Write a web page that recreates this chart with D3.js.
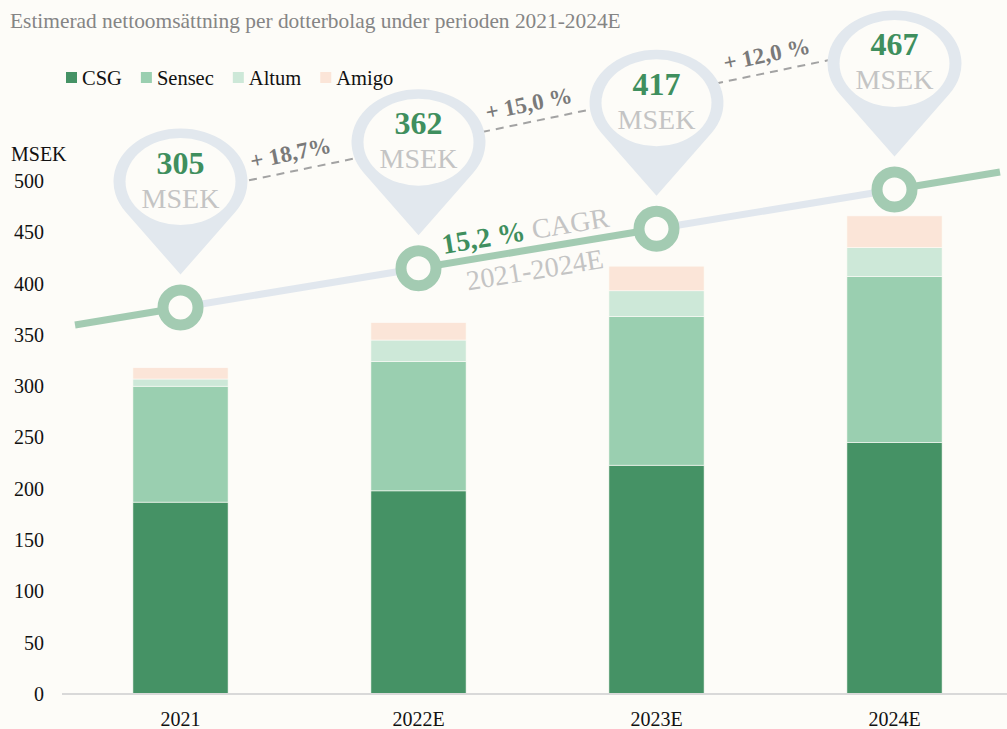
<!DOCTYPE html>
<html>
<head>
<meta charset="utf-8">
<script src="https://cdn.jsdelivr.net/npm/d3@7"></script>
<style>
  html, body { margin: 0; padding: 0; background: #fdfcf8; }
  svg { display: block; font-family: "Liberation Serif", "Times New Roman", serif; }
</style>
</head>
<body>
<div id="chart"></div>
<script>
// data
const years = ["2021", "2022E", "2023E", "2024E"];
const csg = [187, 198, 223, 245];
const sensec = [113, 126, 145, 162];
const altum = [7, 21, 25, 28];
const amigo = [11, 17, 24, 31];
const totals = [305, 362, 417, 467];
const growth = ["+ 18,7%", "+ 15,0 %", "+ 12,0 %"];
const cagr = "15,2 %";
const yTicks = [0, 50, 100, 150, 200, 250, 300, 350, 400, 450, 500];

const seriesNames = ["CSG", "Sensec", "Altum", "Amigo"];
const colors = ["#459265", "#9acfb0", "#cde8d8", "#fbe5d8"];

const width = 1007, height = 729;
const bg = "#fdfcf8";

const svg = d3.select("#chart").append("svg")
  .attr("width", width)
  .attr("height", height);

svg.append("rect").attr("width", width).attr("height", height).attr("fill", bg);

// title
svg.append("text")
  .attr("x", 10).attr("y", 28)
  .attr("font-size", 21.4)
  .attr("fill", "#858585")
  .text("Estimerad nettoomsättning per dotterbolag under perioden 2021-2024E");

// legend
let lx = 66;
seriesNames.forEach((name, i) => {
  svg.append("rect")
    .attr("x", lx).attr("y", 72)
    .attr("width", 11).attr("height", 11)
    .attr("fill", colors[i]);
  const t = svg.append("text")
    .attr("x", lx + 16).attr("y", 85)
    .attr("font-size", 20.5)
    .attr("fill", "#111")
    .text(name);
  lx += 16 + t.node().getComputedTextLength() + 19;
});

// scales
const x = d3.scaleBand()
  .domain(years)
  .range([61.5, 1013.5])
  .paddingInner(0.6)
  .paddingOuter(0.3);

const y = d3.scaleLinear().domain([0, 500]).range([694, 181]);

// stacked bars
const rows = years.map((yr, i) => ({
  year: yr, CSG: csg[i], Sensec: sensec[i], Altum: altum[i], Amigo: amigo[i]
}));
const stacked = d3.stack().keys(seriesNames)(rows);

svg.append("g").selectAll("g")
  .data(stacked)
  .join("g")
  .attr("fill", (d, i) => colors[i])
  .selectAll("rect")
  .data(d => d)
  .join("rect")
  .attr("x", d => x(d.data.year))
  .attr("width", x.bandwidth())
  .attr("y", d => y(d[1]))
  .attr("height", d => y(d[0]) - y(d[1]))
  .attr("stroke", bg)
  .attr("stroke-width", 0.6);

// x baseline
svg.append("line")
  .attr("x1", 62).attr("x2", width)
  .attr("y1", y(0)).attr("y2", y(0))
  .attr("stroke", "#d9d9d9")
  .attr("stroke-width", 2);

// axes
const yAxis = svg.append("g")
  .attr("transform", "translate(62,0)")
  .call(d3.axisLeft(y).tickValues(yTicks).tickSize(0).tickPadding(18));
yAxis.select(".domain").remove();
yAxis.selectAll("text")
  .attr("font-size", 20)
  .attr("font-family", "\"Liberation Serif\", \"Times New Roman\", serif")
  .attr("fill", "#111");

svg.append("text")
  .attr("x", 11).attr("y", 161)
  .attr("font-size", 20)
  .attr("fill", "#111")
  .text("MSEK");

const xAxis = svg.append("g")
  .attr("transform", `translate(0,${y(0)})`)
  .call(d3.axisBottom(x).tickSize(0).tickPadding(18));
xAxis.select(".domain").remove();
xAxis.selectAll("text")
  .attr("font-size", 20)
  .attr("font-family", "\"Liberation Serif\", \"Times New Roman\", serif")
  .attr("fill", "#111");

// trend line decoration
const trend = d3.scaleLinear().domain([75, 1000]).range([325, 172]);
const cx = years.map(yr => x(yr) + x.bandwidth() / 2);
const cy = cx.map(v => trend(v));
const pts = [[75, trend(75)]].concat(cx.map((v, i) => [v, cy[i]])).concat([[1000, trend(1000)]]);

// pins
const pinR = 53, pinTip = 93, pinSx = 1.264;
const pins = cx.map((v, i) => ({ x: v, tip: cy[i] - 33, c: cy[i] - 33 - pinTip, total: totals[i] }));

// dashed growth line (behind pins)
const d0 = [pins[0].x, pins[0].c + 13];
const d1 = [pins[3].x, pins[3].c - 17];
const dashSlope = (d1[1] - d0[1]) / (d1[0] - d0[0]);
const dashY = v => d0[1] + dashSlope * (v - d0[0]);
const dashAngle = Math.atan(dashSlope) * 180 / Math.PI;

svg.append("line")
  .attr("x1", d0[0]).attr("y1", d0[1])
  .attr("x2", d1[0]).attr("y2", d1[1])
  .attr("stroke", "#a3a3a3")
  .attr("stroke-width", 2)
  .attr("stroke-dasharray", "8,6");

growth.forEach((g, i) => {
  const mx = (pins[i].x + pins[i + 1].x) / 2 - 9;
  const my = dashY(mx) - 19;
  svg.append("text")
    .attr("transform", `translate(${mx},${my}) rotate(${dashAngle})`)
    .attr("text-anchor", "middle")
    .attr("dy", "0.35em")
    .attr("font-size", 23)
    .attr("font-weight", "bold")
    .attr("fill", "#7a7a7a")
    .text(g);
});

// trend segments, alternating colours
for (let i = 0; i < pts.length - 1; i++) {
  svg.append("line")
    .attr("x1", pts[i][0]).attr("y1", pts[i][1])
    .attr("x2", pts[i + 1][0]).attr("y2", pts[i + 1][1])
    .attr("stroke", i % 2 === 0 ? "#a3cbb2" : "#e1e7ee")
    .attr("stroke-width", 7);
}

svg.append("g").selectAll("circle")
  .data(cx)
  .join("circle")
  .attr("cx", d => d)
  .attr("cy", (d, i) => cy[i])
  .attr("r", 17.5)
  .attr("fill", bg)
  .attr("stroke", "#a3cbb2")
  .attr("stroke-width", 11);

// pin shape
const a = Math.acos(pinR / pinTip);
const tx = pinR * Math.sin(a), ty = pinR * Math.cos(a);
const pinPath = d3.path();
pinPath.moveTo(0, pinTip);
pinPath.lineTo(tx, ty);
pinPath.arc(0, 0, pinR, Math.atan2(ty, tx), Math.atan2(ty, -tx) - 2 * Math.PI, true);
pinPath.closePath();

const pinG = svg.append("g").selectAll("g")
  .data(pins)
  .join("g");

pinG.append("g")
  .attr("transform", d => `translate(${d.x},${d.c}) scale(${pinSx},1)`)
  .call(g => {
    g.append("path").attr("d", pinPath.toString()).attr("fill", "#e2e8ee");
    g.append("circle").attr("r", 43.5).attr("fill", bg);
  });

pinG.append("text")
  .attr("x", d => d.x).attr("y", d => d.tip - 101)
  .attr("text-anchor", "middle")
  .attr("font-size", 32)
  .attr("font-weight", "bold")
  .attr("fill", "#3f8f5e")
  .text(d => d.total);

pinG.append("text")
  .attr("x", d => d.x).attr("y", d => d.tip - 67)
  .attr("text-anchor", "middle")
  .attr("font-size", 28)
  .attr("fill", "#c4c4c4")
  .text("MSEK");

// CAGR label
const trendAngle = Math.atan((trend(1000) - trend(75)) / 925) * 180 / Math.PI;
const cagrX = (cx[1] + cx[2]) / 2 - 9;
const cagrT = svg.append("text")
  .attr("transform", `translate(${cagrX},${trend(cagrX)}) rotate(${trendAngle})`)
  .attr("text-anchor", "middle")
  .attr("y", -10)
  .attr("font-size", 28);
cagrT.append("tspan").attr("font-weight", "bold").attr("fill", "#3f8f5e").text(cagr);
cagrT.append("tspan").attr("fill", "#c4c4c4").text(" CAGR");

const perX = (cx[1] + cx[2]) / 2 - 6;
svg.append("text")
  .attr("transform", `translate(${perX},${trend(perX)}) rotate(${trendAngle})`)
  .attr("text-anchor", "middle")
  .attr("y", 30)
  .attr("font-size", 28)
  .attr("fill", "#c4c4c4")
  .text(years[0] + "-" + years[3]);
</script>
</body>
</html>
